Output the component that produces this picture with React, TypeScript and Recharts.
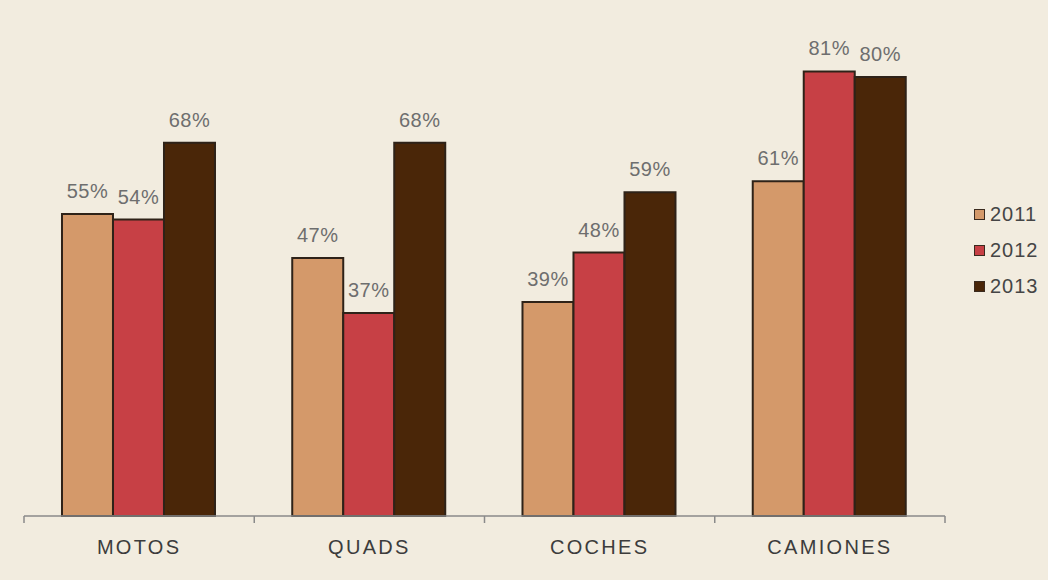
import { BarChart, Bar, XAxis, YAxis, LabelList } from 'recharts';

const categories = ['MOTOS', 'QUADS', 'COCHES', 'CAMIONES'];
const years = ['2011', '2012', '2013'];
const values2011 = [55, 47, 39, 61];
const values2012 = [54, 37, 48, 81];
const values2013 = [68, 68, 59, 80];

const colors = ['#D4996A', '#C74045', '#4A2608'];

const data = categories.map((name, i) => ({
  name,
  y2011: values2011[i],
  y2012: values2012[i],
  y2013: values2013[i],
}));

const CHART_W = 1048;
const CHART_H = 580;
const MARGIN = { top: 22, right: 103, bottom: 24, left: 24 };
const BG = '#F2ECDF';

// half of one category band, used to put tick marks on the band edges
const halfBand = (CHART_W - MARGIN.left - MARGIN.right) / categories.length / 2;

const CategoryTick = (props: any) => {
  const { x, y, payload, index } = props;
  return (
    <g>
      <line x1={x - halfBand} x2={x - halfBand} y1={y} y2={y + 7} stroke='#8a8a8a' strokeWidth={1.5} />
      {index === categories.length - 1 && (
        <line x1={x + halfBand} x2={x + halfBand} y1={y} y2={y + 7} stroke='#8a8a8a' strokeWidth={1.5} />
      )}
      <text
        x={x}
        y={y + 31}
        textAnchor='middle'
        dominantBaseline='central'
        fill='#3c3c3c'
        fontSize={20}
        letterSpacing={2.3}
        fontFamily='Liberation Sans, Arial, sans-serif'
      >
        {payload.value}
      </text>
    </g>
  );
};

export default function App() {
  return (
    <div style={{ position: 'relative', width: CHART_W, height: CHART_H, background: BG }}>
      <style>{`body { margin: 0; background: ${BG}; }`}</style>
      <BarChart
        width={CHART_W}
        height={CHART_H}
        data={data}
        margin={MARGIN}
        barGap={0}
        barCategoryGap='16.5%'
      >
        <XAxis
          dataKey='name'
          height={40}
          tickSize={0}
          tickMargin={0}
          tickLine={false}
          axisLine={{ stroke: '#8a8a8a', strokeWidth: 1.5 }}
          tick={CategoryTick}
          interval={0}
        />
        <YAxis hide domain={[0, 90]} />
        {years.map((year, i) => (
          <Bar
            key={year}
            dataKey={`y${year}`}
            name={year}
            fill={colors[i]}
            stroke='#2e2218'
            strokeWidth={2}
            isAnimationActive={false}
          >
            <LabelList
              dataKey={`y${year}`}
              position='top'
              offset={16}
              formatter={(v: any) => `${v}%`}
              fill='#6e6e6e'
              fontSize={20}
              letterSpacing={0.5}
              fontFamily='Liberation Sans, Arial, sans-serif'
            />
          </Bar>
        ))}
      </BarChart>
      <div
        style={{
          position: 'absolute',
          left: 974,
          top: 196,
          fontFamily: 'Liberation Sans, Arial, sans-serif',
          fontSize: 20,
          letterSpacing: 1,
          color: '#454545',
        }}
      >
        {years.map((year, i) => (
          <div key={year} style={{ display: 'flex', alignItems: 'center', height: 36 }}>
            <span
              style={{
                display: 'inline-block',
                width: 9,
                height: 9,
                background: colors[i],
                border: '1.5px solid #3a2a1e',
                marginRight: 5,
              }}
            />
            <span>{year}</span>
          </div>
        ))}
      </div>
    </div>
  );
}
